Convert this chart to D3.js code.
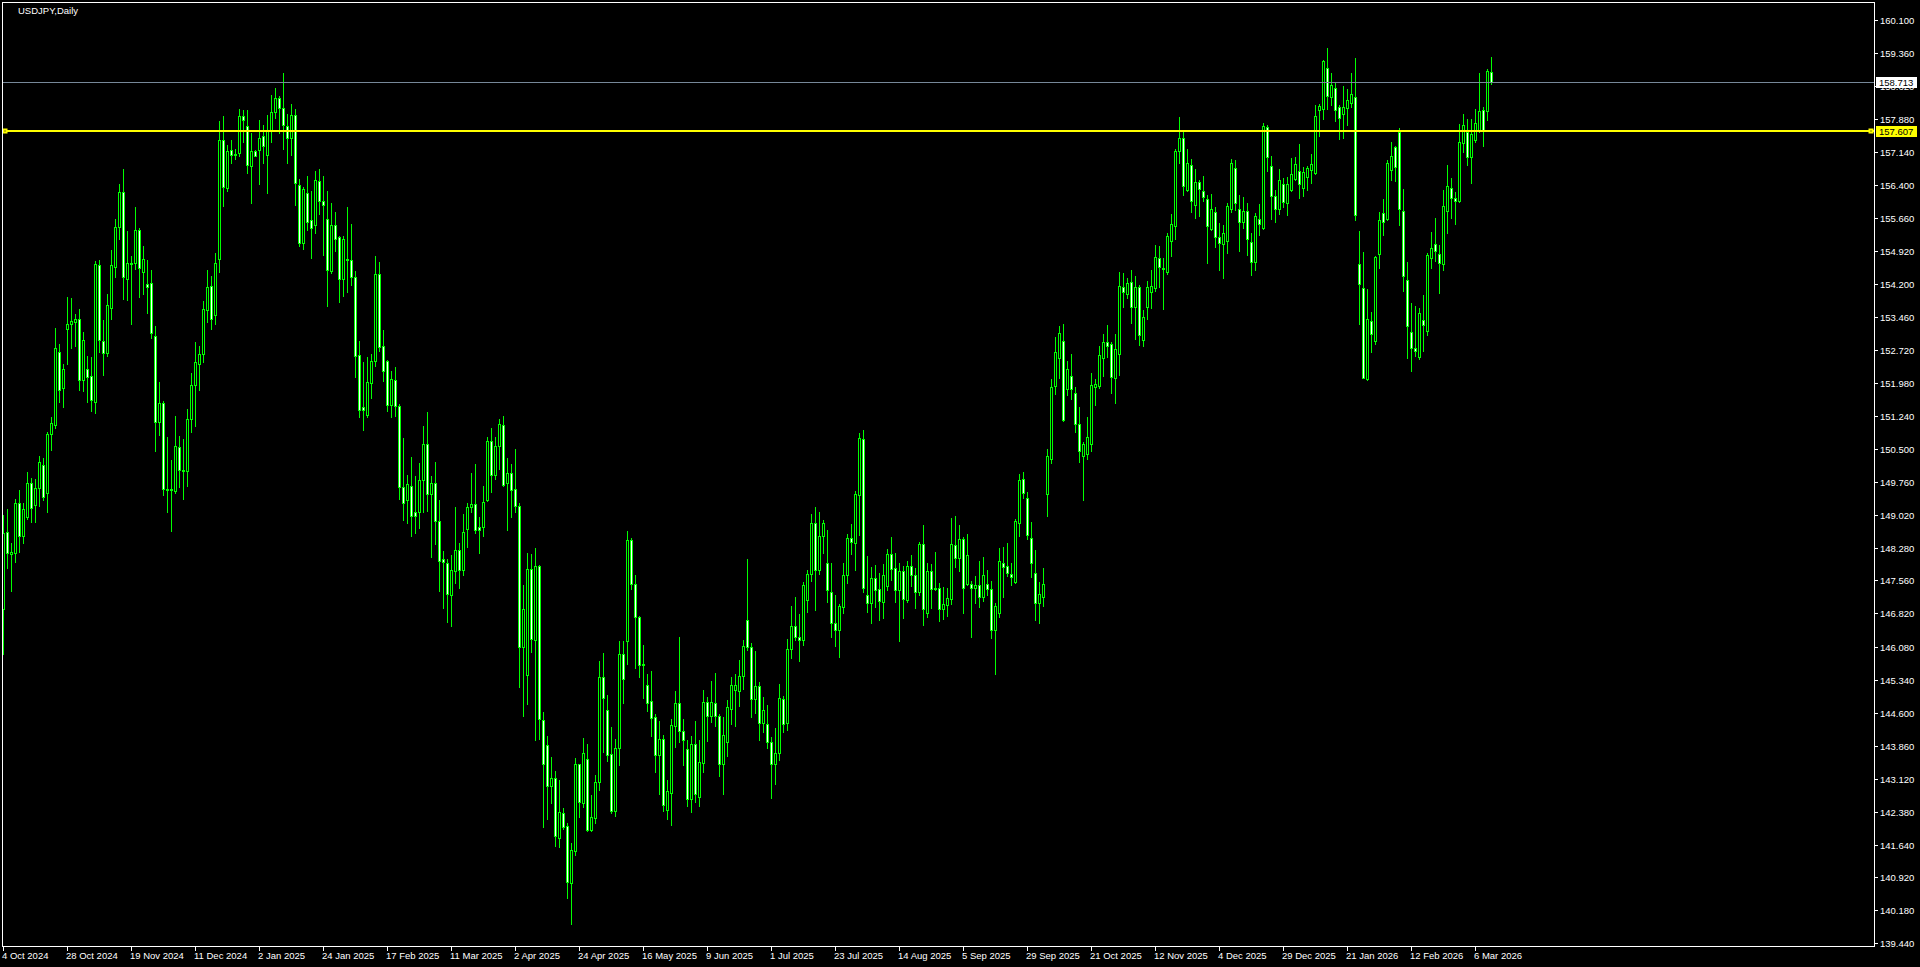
<!DOCTYPE html>
<html>
<head>
<meta charset="utf-8">
<script src="https://cdn.jsdelivr.net/npm/d3@7"></script>
<style>
  html, body { margin: 0; padding: 0; background: #000; overflow: hidden; }
  svg { display: block; }
  text { font-family: "Liberation Sans", Arial, sans-serif; font-size: 9.5px; fill: #fff; }
</style>
</head>
<body>
<div id="chart"></div>
<script>
// USDJPY daily candles, 4 Oct 2024 .. 12 Mar 2026 (one value per trading day)
const opens = [
  146.92,148.64,148.16,148.18,149.29,148.56,148.97,149.75,149.24,149.62, // 0
  150.14,149.51,150.83,151.03,152.68,151.87,153.18,153.29,153.34,153.40,
  152.04,152.30,152.13,151.55,154.61,152.91,152.64,153.66,154.57,155.46,
  156.26,154.30,154.66,154.66,155.41,154.46,154.19,154.21,153.04,151.11,
  151.52,149.60,149.59,149.57,150.54,150.03,150.01,151.18,151.94,152.40,
  152.62,153.61,154.14,153.49,154.76,157.41,156.33,157.19,157.10,157.13,
  157.96,157.72,156.83,157.17,157.18,157.50,157.09,157.64,158.05,158.35,
  158.13,157.72,157.46,157.97,156.40,155.11,156.24,155.62,155.51,156.49,
  156.06,155.64,154.49,155.51,155.24,154.30,154.75,154.72,154.35,152.60,
  151.43,151.27,151.97,152.48,154.41,152.80,152.48,151.49,152.04,151.47,
  149.64,149.37,149.68,149.08,149.08,149.81,150.62,149.50,149.74,148.88, // 100
  148.04,147.95,147.24,147.76,148.23,147.80,148.72,149.20,149.26,148.76,
  148.76,149.36,150.69,149.91,150.56,151.03,149.75,149.96,149.61,149.22,
  146.06,145.45,147.81,146.23,147.88,144.44,143.87,142.97,143.14,141.80,
  142.36,142.07,140.80,141.51,143.45,142.59,143.57,141.97,142.24,143.04,
  145.40,144.66,143.68,142.39,143.80,145.91,146.21,148.46,147.47,146.74,
  145.69,145.22,144.86,144.51,143.66,144.02,142.43,142.81,144.31,144.82,
  144.19,143.78,142.66,143.89,142.72,143.48,144.83,144.53,144.81,144.52,
  143.46,143.95,144.69,145.10,145.09,145.43,146.67,146.08,144.90,145.20,
  144.36,144.35,143.95,143.45,143.70,144.90,144.36,146.02,146.55,146.30,
  146.23,147.13,147.70,148.84,147.80,148.55,147.94,147.31,146.60,146.44, // 200
  146.97,147.69,148.50,148.40,149.48,150.72,147.23,147.06,147.61,147.36,
  147.08,147.44,148.14,147.83,147.35,147.76,147.13,147.88,147.67,147.31,
  148.37,146.82,147.76,147.38,147.38,146.91,147.02,147.15,148.35,148.07,
  148.49,147.47,147.47,147.40,147.45,147.20,147.49,147.36,146.46,146.84,
  147.96,147.88,147.70,147.52,148.85,149.82,149.40,148.50,147.72,147.05,
  147.20,149.49,150.27,151.90,152.53,152.91,151.85,152.13,151.75,151.05,
  150.35,150.38,150.61,151.88,151.90,152.53,152.89,152.86,152.10,152.63,
  154.12,153.98,154.23,153.67,154.12,152.95,153.67,154.01,154.11,154.77,
  154.54,154.47,155.15,155.48,157.16,157.46,156.29,156.85,155.95,156.47,
  156.27,156.09,155.42,155.80,155.24,155.08,155.16,155.86,156.78,155.87, // 300
  155.57,155.83,155.13,154.69,155.64,155.45,157.70,156.83,156.16,155.88,
  156.43,156.00,156.30,156.55,156.72,156.33,156.59,156.75,156.68,158.09,
  158.10,159.03,158.38,158.57,158.15,158.00,158.14,158.25,158.37,154.65,
  154.10,152.07,153.36,152.92,154.87,155.78,155.65,156.75,157.26,157.59,
  155.83,154.28,153.11,152.76,152.57,153.39,153.15,154.78,155.09,154.86,
  154.63,155.83,156.34,156.12,156.04,157.35,157.59,157.04,157.41,157.62,
  158.09,158.07,158.94
];
const highs = [
  149.02,149.16,148.40,149.38,149.59,149.30,149.99,149.86,149.83,150.35,
  150.30,150.89,151.21,153.20,152.85,152.40,153.90,153.88,153.52,153.63,
  153.12,152.58,152.56,154.71,154.73,153.39,153.97,154.96,155.64,156.43,
  156.77,155.38,154.82,155.92,155.45,155.04,154.73,154.51,153.25,151.99,
  151.58,150.77,150.25,151.24,150.79,150.73,151.39,152.20,152.90,152.81,
  153.82,154.51,154.37,154.89,157.85,157.95,157.31,157.42,157.21,158.11,
  158.09,158.09,157.57,157.19,157.86,157.75,157.97,158.43,158.58,158.41,
  158.91,157.99,158.22,158.11,156.54,156.37,156.61,156.28,156.72,156.76,
  156.61,156.28,156.00,155.81,155.27,155.26,155.91,155.53,154.48,152.91,
  152.45,152.56,152.63,154.82,154.68,153.16,152.49,152.24,152.34,151.50,
  150.75,149.91,150.32,149.90,150.19,151.01,151.33,149.90,150.21,149.36,
  148.22,148.05,148.13,149.21,148.39,149.05,149.30,149.97,150.16,148.97,
  149.68,150.77,150.97,150.78,151.17,151.25,150.29,150.16,150.50,149.29,
  147.46,148.18,148.15,148.28,147.90,144.62,144.08,143.61,143.30,143.10,
  142.47,142.14,141.69,143.58,143.46,144.04,143.90,142.76,143.21,145.76,
  145.93,144.99,144.28,144.01,146.20,146.20,148.67,148.50,147.68,146.77,
  146.12,145.47,145.53,144.57,144.41,144.10,143.10,144.47,145.09,146.30,
  144.46,143.99,144.07,144.42,143.99,145.11,144.96,145.31,145.49,144.57,
  144.51,144.89,145.40,145.46,145.78,146.22,148.04,146.17,145.97,145.29,
  144.96,144.77,144.06,144.25,145.24,144.97,146.25,146.99,147.19,146.81,
  147.52,147.79,149.05,149.20,149.09,148.91,148.69,147.96,147.23,147.03,
  147.95,148.59,148.82,149.56,150.86,150.93,148.11,147.86,147.90,147.73,
  147.93,148.26,148.53,148.17,147.96,147.88,147.99,148.13,147.84,148.42,
  148.80,147.95,147.93,148.20,147.50,147.41,147.39,148.96,149.00,148.80,
  148.53,148.60,147.55,147.66,147.99,148.08,147.79,147.55,147.06,148.28,
  148.31,148.40,147.94,148.93,149.94,149.98,149.53,148.87,148.24,147.52,
  147.84,150.50,152.06,153.01,153.25,153.30,152.47,152.63,151.89,151.43,
  150.66,151.22,152.20,152.07,152.81,153.07,153.27,152.89,153.07,154.46,
  154.44,154.33,154.51,154.37,154.16,153.61,154.26,154.51,155.06,155.04,
  154.77,155.33,155.76,157.21,157.92,157.59,157.21,157.00,156.76,156.52,
  156.61,156.18,156.21,155.92,155.56,155.51,156.01,156.99,156.97,156.18,
  156.14,156.01,155.33,155.79,155.99,157.80,157.75,157.06,156.30,156.76,
  156.56,156.59,157.01,157.03,157.33,156.80,156.83,157.10,158.20,158.22,
  159.20,159.47,158.91,158.72,158.20,158.62,158.56,158.91,159.25,155.38,
  154.91,154.08,153.57,154.83,155.80,156.10,156.96,157.37,157.28,157.68,
  156.32,154.68,153.77,153.69,153.65,153.95,154.88,155.36,155.67,155.07,
  156.30,156.86,156.57,156.26,157.77,158.00,157.88,157.88,158.11,158.91,
  158.16,159.00,159.27
];
const lows = [
  145.92,147.83,147.33,147.98,148.20,148.40,148.93,148.86,148.87,149.23,
  149.36,149.08,150.48,150.96,151.55,151.44,152.40,152.75,152.81,151.83,
  151.79,151.55,151.34,151.30,152.67,152.15,152.58,153.41,154.34,155.20,
  153.86,153.84,153.29,154.52,153.91,153.98,153.55,152.99,150.46,150.82,
  149.47,149.08,148.66,149.52,149.66,149.38,149.68,150.89,151.01,151.81,
  152.45,153.34,153.18,153.29,154.46,155.94,156.28,156.89,157.00,157.06,
  157.38,156.67,156.00,157.05,156.44,156.89,156.24,157.38,157.90,157.57,
  157.21,156.90,157.08,155.95,155.05,154.98,155.40,154.78,155.34,155.75,
  154.85,153.71,154.44,154.93,153.80,153.93,154.01,154.18,152.12,151.22,
  150.93,151.21,151.64,152.36,152.70,152.03,151.34,151.22,151.24,149.38,
  148.92,148.84,148.56,148.63,148.74,149.10,149.11,148.09,148.38,147.32,
  146.94,146.64,146.55,147.50,147.40,147.67,148.30,149.09,148.61,148.18,
  148.56,149.33,149.54,149.84,150.06,149.67,148.69,148.98,149.09,145.18,
  144.53,144.79,145.96,143.99,144.01,142.04,142.22,142.58,141.62,141.60,
  142.00,140.46,139.87,141.42,142.27,142.49,141.95,141.95,142.13,142.87,
  143.72,143.53,142.35,142.29,143.43,144.82,145.68,147.37,145.59,145.40,
  144.93,144.64,144.08,143.28,142.77,142.40,142.22,142.08,143.83,143.95,
  143.43,142.52,142.37,142.61,142.52,143.28,143.97,144.39,144.30,143.18,
  142.79,143.64,144.34,144.31,144.74,145.13,146.01,144.51,144.60,143.99,
  144.17,143.80,142.70,143.00,143.55,144.16,144.21,145.83,146.23,145.76,
  146.11,146.85,147.55,146.90,147.70,148.18,147.08,146.30,146.10,145.85,
  146.82,147.50,148.15,147.79,148.58,147.29,146.85,146.61,146.97,146.67,
  146.72,147.35,147.57,147.08,146.21,146.72,147.08,147.44,146.94,147.23,
  146.57,146.75,146.95,147.35,146.66,146.70,146.76,147.03,147.87,147.76,
  146.82,147.46,146.30,147.06,146.96,147.11,147.23,146.28,145.47,146.75,
  147.20,147.66,147.46,147.50,148.55,149.41,148.48,147.64,146.67,146.60,
  146.99,149.01,150.19,151.74,152.10,151.13,151.71,151.62,150.89,150.22,
  149.37,150.27,150.46,151.49,151.87,152.14,152.57,151.76,151.54,152.16,
  153.67,153.88,153.33,152.97,152.83,152.81,153.42,153.66,154.04,154.13,
  153.63,154.42,154.83,155.21,156.89,156.18,156.28,155.81,155.66,155.72,
  156.04,154.67,155.40,155.01,154.51,154.33,154.89,155.81,155.85,154.93,
  155.45,154.85,154.39,154.51,155.29,155.42,156.71,155.65,155.57,155.77,
  155.92,155.74,156.28,156.52,156.12,156.17,156.30,156.45,156.66,157.50,
  157.88,158.11,158.20,157.83,157.44,157.47,157.75,158.16,155.63,153.30,
  152.08,152.05,152.68,152.85,154.55,155.29,155.62,156.52,156.50,155.51,
  154.04,152.54,152.25,152.58,152.51,152.69,153.06,154.54,154.70,154.00,
  154.50,155.34,155.68,155.53,156.03,157.14,156.86,156.46,157.36,157.60,
  157.28,157.86,158.67
];
const closes = [
  148.61,148.18,148.20,149.29,148.55,149.15,149.75,149.19,149.62,150.20,
  149.43,150.83,151.08,152.75,151.82,152.28,153.29,153.36,153.41,152.04,
  152.93,152.12,151.60,154.64,152.93,152.64,153.73,154.61,155.46,156.26,
  154.35,154.66,154.64,155.41,154.54,154.76,154.12,153.10,151.11,151.52,
  149.60,149.59,149.60,150.56,150.04,150.00,151.17,151.94,152.45,152.62,
  153.64,154.12,153.42,154.67,157.42,156.37,157.16,157.09,157.08,157.96,
  157.87,156.85,157.17,157.06,157.46,157.29,157.64,158.05,158.35,158.13,
  157.75,157.46,157.97,156.46,155.11,156.31,155.58,155.45,156.53,156.06,
  155.97,154.50,155.51,155.21,154.30,155.21,154.73,154.35,152.59,151.38,
  151.38,151.99,152.48,154.41,152.79,152.25,151.49,152.06,151.47,149.64,
  149.30,149.71,149.01,149.01,149.80,150.61,149.50,149.74,148.88,147.99,
  147.97,147.26,147.79,148.25,147.80,148.64,149.21,149.27,148.68,148.68,
  149.31,150.69,149.91,150.56,151.06,149.70,149.96,149.59,149.23,146.06,
  146.92,147.81,146.26,147.88,144.45,143.46,142.97,143.14,141.83,142.38,
  142.05,140.82,141.53,143.45,142.61,143.70,141.97,142.27,143.05,145.40,
  144.92,143.66,142.39,143.82,145.91,145.36,148.46,147.47,146.74,145.66,
  145.66,144.82,144.49,143.66,144.02,142.54,142.84,144.32,144.82,144.18,
  143.99,142.66,143.91,142.77,143.49,144.83,144.53,144.85,144.53,143.46,
  144.10,144.72,145.22,145.23,145.43,146.09,146.08,144.90,145.20,144.36,
  144.66,143.95,143.45,143.70,144.92,144.34,146.02,146.55,146.30,146.23,
  147.45,147.70,148.84,147.80,148.55,148.84,147.35,146.60,146.46,146.98,
  147.67,148.50,148.43,149.49,150.75,147.40,147.06,147.61,147.35,147.11,
  147.67,148.14,147.82,147.35,147.76,147.14,147.88,147.67,147.31,148.37,
  146.93,147.76,147.37,147.37,146.91,147.03,147.16,148.37,148.07,148.49,
  147.40,148.12,147.40,147.45,147.20,147.67,147.36,146.46,146.98,147.99,
  147.85,147.72,147.64,148.89,149.81,149.51,148.58,147.94,147.06,147.25,
  147.48,150.34,151.88,152.68,153.09,151.16,152.28,151.84,151.05,150.45,
  150.61,150.76,151.93,151.95,152.60,152.89,152.81,152.12,152.73,154.14,
  154.01,154.21,153.67,154.12,153.06,153.45,154.12,154.15,154.79,154.57,
  154.52,155.27,155.53,157.17,157.46,156.39,156.91,156.04,156.47,156.31,
  156.15,155.48,155.87,155.24,155.12,155.33,155.94,156.89,156.01,155.57,
  155.83,155.21,154.69,155.71,155.54,157.73,157.04,156.17,155.88,156.52,
  156.03,156.43,156.65,156.88,156.42,156.69,156.78,156.88,157.95,158.18,
  159.18,158.41,158.65,158.09,157.91,158.15,158.31,158.44,155.74,154.20,
  152.10,153.42,153.08,154.80,155.62,155.59,156.89,157.06,156.82,155.86,
  154.38,153.26,152.75,152.70,153.54,153.28,154.84,155.00,154.92,154.67,
  155.94,156.38,156.12,156.06,157.37,157.75,157.04,157.56,157.79,158.06,
  157.62,158.96,158.713
];

// time axis: bar index of each label and its text
const dateTickIdx = [0,16,32,48,64,80,96,112,128,144,160,176,192,208,224,240,256,272,288,304,320,336,352,368];
const dateTickLabels = ["4 Oct 2024","28 Oct 2024","19 Nov 2024","11 Dec 2024","2 Jan 2025","24 Jan 2025",
  "17 Feb 2025","11 Mar 2025","2 Apr 2025","24 Apr 2025","16 May 2025","9 Jun 2025","1 Jul 2025",
  "23 Jul 2025","14 Aug 2025","5 Sep 2025","29 Sep 2025","21 Oct 2025","12 Nov 2025","4 Dec 2025",
  "29 Dec 2025","21 Jan 2026","12 Feb 2026","6 Mar 2026"];

// price axis labels as printed by the terminal
const priceTickLabels = ["160.100","159.360","158.620","157.880","157.140","156.400","155.660","154.920",
  "154.200","153.460","152.720","151.980","151.240","150.500","149.760","149.020","148.280","147.560",
  "146.820","146.080","145.340","144.600","143.860","143.120","142.380","141.640","140.920","140.180","139.440"];

const symbolTitle = "USDJPY,Daily";
const bidPrice = 158.713;
const levelPrice = 157.607;

// layout
const W = 1920, H = 967;
const plot = { left: 2, top: 2, right: 1874, bottom: 946 };

const svg = d3.select("#chart").append("svg")
  .attr("width", W)
  .attr("height", H);

svg.append("rect").attr("width", W).attr("height", H).attr("fill", "#000");

const N = closes.length;
const x = d3.scaleLinear()
  .domain([0, N - 1])
  .range([3.5, 3.5 + 4 * (N - 1)]);

const y = d3.scaleLinear()
  .domain([139.44, 160.10])
  .range([943.3, 20]);

const py = v => Math.round(y(v));

// candles
const idx = d3.range(N);
const candles = svg.append("g").attr("shape-rendering", "crispEdges");

candles.selectAll(".wick")
  .data(idx)
  .enter().append("line")
  .attr("class", "wick")
  .attr("x1", i => x(i))
  .attr("x2", i => x(i))
  .attr("y1", i => py(highs[i]))
  .attr("y2", i => py(lows[i]) + 1)
  .attr("stroke", "#00ff00")
  .attr("stroke-width", 1);

candles.selectAll(".body")
  .data(idx)
  .enter().append("rect")
  .attr("class", "body")
  .attr("x", i => x(i) - 1)
  .attr("y", i => py(Math.max(opens[i], closes[i])) + 0.5)
  .attr("width", 2)
  .attr("height", i => Math.max(0, py(Math.min(opens[i], closes[i])) - py(Math.max(opens[i], closes[i]))))
  .attr("fill", i => closes[i] >= opens[i] ? "#000" : "#fff")
  .attr("stroke", "#00ff00")
  .attr("stroke-width", 1);

// bid line
svg.append("line")
  .attr("x1", plot.left).attr("x2", plot.right)
  .attr("y1", py(bidPrice) + 0.5).attr("y2", py(bidPrice) + 0.5)
  .attr("stroke", "#778899")
  .attr("stroke-width", 1)
  .attr("shape-rendering", "crispEdges");

// horizontal level
svg.append("line")
  .attr("x1", plot.left).attr("x2", plot.right)
  .attr("y1", py(levelPrice)).attr("y2", py(levelPrice))
  .attr("stroke", "#ffff00")
  .attr("stroke-width", 2)
  .attr("shape-rendering", "crispEdges");

[plot.left + 3, plot.right - 3].forEach(cx => {
  svg.append("rect")
    .attr("x", cx - 2.5).attr("y", py(levelPrice) - 2.5)
    .attr("width", 5).attr("height", 5)
    .attr("fill", "#ffff00");
  svg.append("rect")
    .attr("x", cx - 0.5).attr("y", py(levelPrice) - 0.5)
    .attr("width", 1).attr("height", 1)
    .attr("fill", "#000");
});

// frame
svg.append("path")
  .attr("d", `M${plot.left + 0.5},${plot.bottom + 0.5}V${plot.top + 0.5}H${plot.right + 0.5}V${plot.bottom + 0.5}Z`)
  .attr("fill", "none")
  .attr("stroke", "#fff")
  .attr("stroke-width", 1)
  .attr("shape-rendering", "crispEdges");

// price axis
const yTicks = priceTickLabels.map(Number);
const yAxis = svg.append("g");
yAxis.selectAll("line")
  .data(yTicks)
  .enter().append("line")
  .attr("x1", plot.right + 1).attr("x2", plot.right + 4)
  .attr("y1", d => py(d) + 0.5).attr("y2", d => py(d) + 0.5)
  .attr("stroke", "#fff")
  .attr("shape-rendering", "crispEdges");
yAxis.selectAll("text")
  .data(yTicks)
  .enter().append("text")
  .attr("x", plot.right + 6)
  .attr("y", d => py(d) + 4)
  .text((d, i) => priceTickLabels[i]);

// time axis
const xAxis = svg.append("g");
xAxis.selectAll("line")
  .data(dateTickIdx)
  .enter().append("line")
  .attr("x1", d => x(d)).attr("x2", d => x(d))
  .attr("y1", plot.bottom + 1).attr("y2", plot.bottom + 5)
  .attr("stroke", "#fff")
  .attr("shape-rendering", "crispEdges");
xAxis.selectAll("text")
  .data(dateTickIdx)
  .enter().append("text")
  .attr("x", d => x(d) - 1.5)
  .attr("y", 959)
  .text((d, i) => dateTickLabels[i]);

// price tags
function priceTag(v, bg) {
  const g = svg.append("g");
  g.append("rect")
    .attr("x", plot.right + 2).attr("y", py(v) - 5)
    .attr("width", 41).attr("height", 11)
    .attr("fill", bg)
    .attr("shape-rendering", "crispEdges");
  g.append("text")
    .attr("x", plot.right + 5)
    .attr("y", py(v) + 4)
    .style("fill", "#000")
    .text(v.toFixed(3));
}
priceTag(bidPrice, "#fff");
priceTag(levelPrice, "#ffff00");

// title
svg.append("text")
  .attr("x", 18)
  .attr("y", 14)
  .text(symbolTitle);
</script>
</body>
</html>
